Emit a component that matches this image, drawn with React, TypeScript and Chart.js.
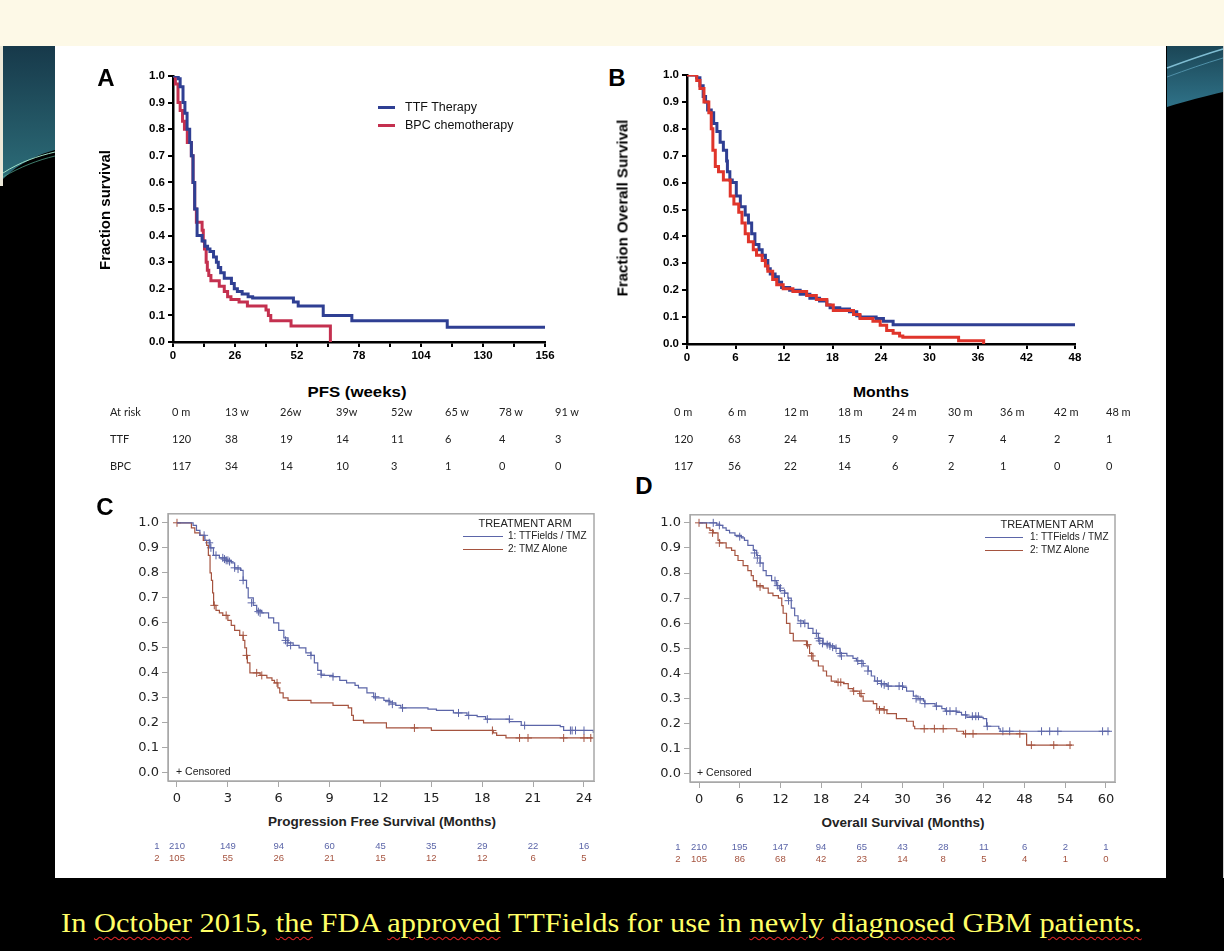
import React, { useEffect, useRef } from 'react';
import { Chart, registerables } from 'chart.js';
Chart.register(...registerables);

type Pair = [number, number];

// ---------------- Panel A: PFS (weeks) ----------------
const A_X_TICKS = [0, 13, 26, 39, 52, 65, 78, 91, 104, 117, 130, 143, 156];
const A_Y_TICKS = [0, 0.1, 0.2, 0.3, 0.4, 0.5, 0.6, 0.7, 0.8, 0.9, 1.0];
const A_TTF: Pair[] = [[0, 1], [2.2, 0.99], [3, 0.96], [4.2, 0.9], [5, 0.86], [5.9, 0.8], [7, 0.75], [7.7, 0.7], [8.4, 0.6], [9.1, 0.5], [10.1, 0.4], [12.2, 0.38], [13.4, 0.36], [14.5, 0.35], [15.5, 0.34], [17, 0.32], [18.2, 0.3], [19, 0.28], [20, 0.26], [21.5, 0.24], [24.5, 0.22], [25.7, 0.2], [27, 0.19], [29, 0.18], [31.5, 0.17], [33.4, 0.165], [50.5, 0.15], [52.5, 0.135], [63, 0.1], [75, 0.08], [115, 0.055], [156, 0.055]];
const A_BPC: Pair[] = [[0, 1], [1, 0.97], [2.1, 0.9], [3, 0.87], [4, 0.83], [4.8, 0.8], [6, 0.75], [7.7, 0.7], [8.4, 0.6], [9.1, 0.5], [9.8, 0.45], [12.2, 0.42], [12.7, 0.38], [13.2, 0.35], [13.9, 0.3], [14.4, 0.27], [15, 0.25], [15.9, 0.23], [19.4, 0.21], [21.5, 0.19], [22.9, 0.17], [24.3, 0.16], [27.7, 0.15], [31.2, 0.135], [39, 0.12], [40, 0.1], [41, 0.08], [49.5, 0.06], [66, 0]];
const A_RISK_HEAD = ['0 m', '13 w', '26w', '39w', '52w', '65 w', '78 w', '91 w'];
const A_RISK_TTF = [120, 38, 19, 14, 11, 6, 4, 3];
const A_RISK_BPC = [117, 34, 14, 10, 3, 1, 0, 0];

// ---------------- Panel B: OS (months) ----------------
const B_X_TICKS = [0, 6, 12, 18, 24, 30, 36, 42, 48];
const B_Y_TICKS = [0, 0.1, 0.2, 0.3, 0.4, 0.5, 0.6, 0.7, 0.8, 0.9, 1.0];
const B_TTF: Pair[] = [[0, 1], [0.8, 1], [1.2, 0.99], [1.6, 0.96], [2.0, 0.92], [2.3, 0.9], [2.55, 0.87], [3.0, 0.86], [3.3, 0.82], [3.7, 0.79], [4.1, 0.75], [4.5, 0.72], [4.9, 0.68], [5.0, 0.64], [5.3, 0.61], [5.6, 0.6], [6.1, 0.55], [6.6, 0.51], [7.2, 0.48], [7.6, 0.45], [8.0, 0.41], [8.4, 0.37], [8.9, 0.35], [9.3, 0.33], [9.7, 0.31], [10.0, 0.28], [10.3, 0.26], [10.9, 0.25], [11.3, 0.23], [11.7, 0.21], [12.7, 0.2], [14.0, 0.185], [15.2, 0.17], [16.4, 0.16], [17.3, 0.145], [17.7, 0.135], [18.9, 0.13], [20.1, 0.12], [21.0, 0.105], [21.4, 0.1], [23.4, 0.095], [24.3, 0.085], [25.5, 0.072], [48, 0.072]];
const B_BPC: Pair[] = [[0, 1], [0.8, 1], [1.2, 0.98], [1.6, 0.95], [2.1, 0.9], [2.7, 0.86], [3.0, 0.8], [3.2, 0.72], [3.5, 0.66], [3.9, 0.64], [4.5, 0.61], [5.35, 0.55], [5.8, 0.52], [6.4, 0.49], [6.8, 0.45], [7.2, 0.41], [7.6, 0.38], [8.2, 0.35], [8.6, 0.33], [9.3, 0.31], [9.7, 0.29], [10.0, 0.27], [10.6, 0.24], [11.1, 0.22], [11.9, 0.205], [13.1, 0.195], [14.8, 0.18], [16.0, 0.165], [17.3, 0.145], [18.1, 0.125], [20.6, 0.11], [21.4, 0.095], [23.0, 0.085], [23.9, 0.07], [24.7, 0.05], [25.5, 0.04], [26.3, 0.03], [26.7, 0.025], [33.6, 0.012], [36.7, 0]];
const B_RISK_HEAD = ['0 m', '6 m', '12 m', '18 m', '24 m', '30 m', '36 m', '42 m', '48 m'];
const B_RISK_TTF = [120, 63, 24, 15, 9, 7, 4, 2, 1];
const B_RISK_BPC = [117, 56, 22, 14, 6, 2, 1, 0, 0];

// ---------------- Panel C: PFS (months) ----------------
const C_X_TICKS = [0, 3, 6, 9, 12, 15, 18, 21, 24];
const C_Y_TICKS = [0, 0.1, 0.2, 0.3, 0.4, 0.5, 0.6, 0.7, 0.8, 0.9, 1.0];
const C_TTF: Pair[] = [[0, 1], [0.85, 1], [0.95, 0.99], [1.15, 0.97], [1.35, 0.95], [1.65, 0.93], [1.95, 0.9], [2.15, 0.87], [2.5, 0.86], [2.9, 0.85], [3.2, 0.84], [3.4, 0.82], [3.75, 0.81], [3.9, 0.77], [4.1, 0.74], [4.2, 0.7], [4.5, 0.67], [4.7, 0.65], [5.0, 0.64], [5.4, 0.62], [5.7, 0.6], [6.0, 0.57], [6.3, 0.54], [6.55, 0.52], [6.85, 0.51], [7.2, 0.5], [7.6, 0.48], [7.9, 0.47], [8.1, 0.44], [8.3, 0.41], [8.5, 0.39], [9.2, 0.385], [9.6, 0.37], [10.0, 0.36], [10.5, 0.35], [10.7, 0.34], [11.2, 0.32], [11.6, 0.3], [12.2, 0.29], [12.55, 0.28], [12.9, 0.27], [13.2, 0.26], [14.8, 0.255], [15.3, 0.25], [16.3, 0.24], [17.1, 0.23], [17.7, 0.225], [18.2, 0.215], [19.6, 0.205], [20.3, 0.19], [22.6, 0.185], [22.8, 0.17], [24.4, 0.17], [24.55, 0.16]];
const C_TMZ: Pair[] = [[0, 1], [0.75, 1], [0.85, 0.98], [1.05, 0.96], [1.35, 0.95], [1.55, 0.93], [1.75, 0.91], [1.85, 0.87], [1.95, 0.8], [2.03, 0.77], [2.1, 0.72], [2.16, 0.67], [2.3, 0.65], [2.5, 0.64], [2.7, 0.63], [3.0, 0.61], [3.2, 0.59], [3.4, 0.57], [3.7, 0.55], [3.9, 0.53], [4.0, 0.5], [4.1, 0.47], [4.15, 0.44], [4.3, 0.4], [4.9, 0.39], [5.3, 0.38], [5.6, 0.37], [5.75, 0.36], [5.95, 0.34], [6.06, 0.32], [6.26, 0.3], [6.55, 0.29], [7.9, 0.28], [9.2, 0.27], [10.1, 0.26], [10.3, 0.23], [10.4, 0.21], [11.0, 0.2], [12.35, 0.18], [15.0, 0.17], [18.65, 0.16], [18.85, 0.15], [19.4, 0.14], [24.5, 0.14]];
const C_TTF_CENS: Pair[] = [[1.6, 0.95], [1.9, 0.92], [2.0, 0.9], [2.3, 0.87], [2.7, 0.86], [2.8, 0.855], [2.9, 0.85], [3.0, 0.85], [3.1, 0.845], [3.4, 0.82], [3.6, 0.815], [3.9, 0.77], [4.4, 0.68], [4.8, 0.645], [4.9, 0.64], [6.4, 0.53], [6.5, 0.52], [6.7, 0.51], [7.9, 0.47], [8.5, 0.395], [9.2, 0.385], [11.7, 0.305], [12.5, 0.285], [12.7, 0.275], [13.3, 0.26], [16.6, 0.24], [17.2, 0.23], [18.3, 0.215], [19.6, 0.215], [20.5, 0.19], [23.2, 0.17], [23.3, 0.17], [23.5, 0.17], [24.0, 0.17]];
const C_TMZ_CENS: Pair[] = [[0, 1.0], [2.2, 0.67], [2.9, 0.63], [3.9, 0.55], [4.1, 0.47], [4.7, 0.4], [5.0, 0.39], [5.9, 0.36], [14.0, 0.18], [18.6, 0.17], [20.2, 0.14], [20.7, 0.14], [22.8, 0.14], [24.0, 0.14], [24.4, 0.14]];
const C_RISK_1 = [210, 149, 94, 60, 45, 35, 29, 22, 16];
const C_RISK_2 = [105, 55, 26, 21, 15, 12, 12, 6, 5];

// ---------------- Panel D: OS (months) ----------------
const D_X_TICKS = [0, 6, 12, 18, 24, 30, 36, 42, 48, 54, 60];
const D_Y_TICKS = [0, 0.1, 0.2, 0.3, 0.4, 0.5, 0.6, 0.7, 0.8, 0.9, 1.0];
const D_TTF: Pair[] = [[0, 1], [1.6, 1], [2.6, 0.995], [3.05, 0.99], [3.5, 0.98], [4.0, 0.97], [4.5, 0.96], [5.3, 0.95], [6.25, 0.94], [6.7, 0.93], [7.2, 0.91], [8.0, 0.89], [8.5, 0.87], [9.0, 0.84], [9.45, 0.81], [9.9, 0.79], [10.7, 0.77], [11.4, 0.75], [11.9, 0.73], [12.65, 0.72], [13.1, 0.7], [13.6, 0.66], [14.1, 0.63], [14.6, 0.61], [15.4, 0.6], [16.1, 0.58], [16.8, 0.56], [17.6, 0.54], [18.3, 0.52], [19.3, 0.51], [20.0, 0.5], [20.8, 0.48], [21.8, 0.47], [22.7, 0.46], [23.2, 0.45], [24.2, 0.43], [24.95, 0.41], [25.4, 0.39], [25.9, 0.37], [26.9, 0.36], [27.7, 0.35], [30.1, 0.345], [30.6, 0.33], [31.6, 0.31], [32.3, 0.3], [33.1, 0.29], [33.3, 0.28], [34.8, 0.27], [35.8, 0.26], [36.3, 0.25], [38.0, 0.245], [38.7, 0.235], [39.5, 0.225], [41.9, 0.22], [42.4, 0.19], [44.2, 0.18], [44.4, 0.17], [60.6, 0.17]];
const D_TMZ: Pair[] = [[0, 1], [0.6, 1], [1.1, 0.98], [1.6, 0.97], [2.1, 0.96], [2.8, 0.93], [3.05, 0.92], [4.0, 0.9], [4.8, 0.89], [5.3, 0.87], [5.75, 0.85], [6.5, 0.83], [7.2, 0.81], [7.7, 0.79], [8.0, 0.77], [8.5, 0.75], [9.45, 0.74], [10.2, 0.72], [10.9, 0.71], [11.7, 0.7], [12.2, 0.67], [12.4, 0.64], [12.9, 0.6], [13.4, 0.56], [13.9, 0.53], [15.4, 0.53], [15.85, 0.51], [16.3, 0.48], [16.8, 0.45], [17.6, 0.43], [18.3, 0.41], [18.8, 0.39], [19.5, 0.37], [20.3, 0.365], [21.3, 0.36], [22.0, 0.34], [22.7, 0.33], [23.7, 0.31], [24.2, 0.29], [25.7, 0.28], [26.2, 0.26], [27.2, 0.255], [27.7, 0.24], [29.1, 0.22], [30.6, 0.21], [31.6, 0.19], [31.8, 0.18], [38.0, 0.17], [39.0, 0.16], [48.1, 0.16], [48.3, 0.115], [55, 0.115]];
const D_TTF_CENS: Pair[] = [[2.1, 1.0], [3.0, 0.99], [6.0, 0.945], [8.2, 0.88], [8.6, 0.86], [9.0, 0.84], [11.2, 0.77], [11.6, 0.75], [12.0, 0.74], [12.6, 0.72], [13.2, 0.69], [15.0, 0.6], [15.6, 0.6], [17.3, 0.56], [17.6, 0.54], [17.8, 0.53], [18.2, 0.52], [18.9, 0.515], [19.3, 0.51], [19.7, 0.505], [20.2, 0.5], [20.8, 0.48], [21.0, 0.47], [23.4, 0.45], [24.0, 0.44], [24.9, 0.41], [26.3, 0.37], [26.9, 0.36], [27.3, 0.355], [27.9, 0.35], [29.5, 0.35], [30.0, 0.35], [32.0, 0.3], [32.6, 0.295], [33.3, 0.28], [35.0, 0.27], [36.5, 0.25], [37.0, 0.25], [37.9, 0.25], [39.3, 0.235], [40.3, 0.23], [40.8, 0.23], [41.2, 0.23], [42.5, 0.19], [44.8, 0.17], [45.8, 0.17], [50.5, 0.17], [51.7, 0.17], [52.9, 0.17], [59.5, 0.17], [60.3, 0.17]];
const D_TMZ_CENS: Pair[] = [[0, 1.0], [2.0, 0.96], [3.0, 0.92], [9.0, 0.745], [16.0, 0.515], [16.6, 0.47], [20.5, 0.365], [20.9, 0.365], [22.8, 0.33], [23.9, 0.32], [26.6, 0.255], [27.3, 0.255], [33.2, 0.18], [34.7, 0.18], [36.0, 0.18], [39.3, 0.16], [40.4, 0.16], [47.3, 0.16], [49.0, 0.115], [52.3, 0.115], [54.7, 0.115]];
const D_RISK_1 = [210, 195, 147, 94, 65, 43, 28, 11, 6, 2, 1];
const D_RISK_2 = [105, 86, 68, 42, 23, 14, 8, 5, 4, 1, 0];

// ---------------- styles ----------------
const SANS = '"Liberation Sans", Arial, sans-serif';
const DEJAVU = '"DejaVu Sans", sans-serif';
const PRISM_BLUE = '#2f3f93';
const PRISM_RED_A = '#c4304f';
const PRISM_RED_B = '#e0352b';
const SAS_BLUE = '#5b65a8';
const SAS_RED = '#a5533f';

interface Panel {
  plot: { x: number; y: number; w: number; h: number };
  m: { l: number; t: number; r: number; b: number };
  xMin: number; xMax: number; xTicks: number[]; xLabel: (v: number) => string;
  yMin: number; yMax: number; yTicks: number[];
  style: 'prism' | 'sas';
  curves: { pts: Pair[]; color: string; width: number }[];
  censors: { pts: Pair[]; color: string }[];
}

const framePlugin = {
  id: 'sasFrame',
  afterDraw(chart: any) {
    const { ctx, chartArea: a } = chart;
    ctx.save();
    ctx.strokeStyle = '#a8a8a8';
    ctx.lineWidth = 1.5;
    ctx.strokeRect(a.left, a.top, a.right - a.left, a.bottom - a.top);
    ctx.restore();
  },
};

const toXY = (p: Pair[]) => p.map(([x, y]) => ({ x, y }));

function buildConfig(p: Panel): any {
  const prism = p.style === 'prism';
  const axisColor = prism ? '#000' : '#a8a8a8';
  const tickFont = prism ? { family: SANS, size: 11.5, weight: 'bold' } : { family: DEJAVU, size: 13 };
  const tickColor = prism ? '#000' : '#222';
  const datasets: any[] = [];
  p.curves.forEach((c) =>
    datasets.push({ data: toXY(c.pts), borderColor: c.color, borderWidth: c.width, stepped: 'before', pointRadius: 0, fill: false, tension: 0 })
  );
  p.censors.forEach((c) =>
    datasets.push({ data: toXY(c.pts), showLine: false, pointStyle: 'cross', pointRadius: 4, pointBorderWidth: 1, pointBorderColor: c.color, borderColor: c.color, backgroundColor: c.color })
  );
  const grid = { display: true, drawOnChartArea: false, drawTicks: true, tickLength: prism ? 5 : 6, color: axisColor, lineWidth: prism ? 2 : 1 };
  const border = { display: true, color: axisColor, width: prism ? 2.5 : 1 };
  return {
    type: 'line',
    data: { datasets },
    options: {
      animation: false,
      responsive: false,
      maintainAspectRatio: false,
      events: [],
      layout: { padding: { top: p.m.t, right: p.m.r, left: 0, bottom: 0 } },
      plugins: { legend: { display: false }, tooltip: { enabled: false } },
      scales: {
        x: {
          type: 'linear', min: p.xMin, max: p.xMax,
          afterBuildTicks: (s: any) => { s.ticks = p.xTicks.map((v) => ({ value: v })); },
          afterFit: (s: any) => { s.height = p.m.b; },
          grid, border,
          ticks: { autoSkip: false, maxRotation: 0, padding: prism ? 2 : 4, color: tickColor, font: tickFont, callback: (v: number) => p.xLabel(v) },
        },
        y: {
          type: 'linear', min: p.yMin, max: p.yMax,
          afterBuildTicks: (s: any) => { s.ticks = p.yTicks.map((v) => ({ value: v })); },
          afterFit: (s: any) => { s.width = p.m.l; },
          grid, border,
          ticks: { autoSkip: false, padding: 3, color: tickColor, font: tickFont, callback: (v: number) => v.toFixed(1) },
        },
      },
    },
    plugins: prism ? [] : [framePlugin],
  };
}

function KMChart({ p }: { p: Panel }) {
  const ref = useRef<HTMLCanvasElement>(null);
  useEffect(() => {
    const chart = new Chart(ref.current as HTMLCanvasElement, buildConfig(p));
    return () => chart.destroy();
  }, []);
  const w = p.plot.w + p.m.l + p.m.r;
  const h = p.plot.h + p.m.t + p.m.b;
  return (
    <canvas
      ref={ref}
      width={w}
      height={h}
      style={{ position: 'absolute', left: p.plot.x - p.m.l, top: p.plot.y - p.m.t, width: w, height: h }}
    />
  );
}

const PANEL_A: Panel = {
  plot: { x: 173, y: 76, w: 372, h: 266 }, m: { l: 60, t: 12, r: 22, b: 30 },
  xMin: 0, xMax: 156, xTicks: A_X_TICKS, xLabel: (v) => (v % 26 === 0 ? String(v) : ''),
  yMin: 0, yMax: 1, yTicks: A_Y_TICKS, style: 'prism',
  curves: [{ pts: A_TTF, color: PRISM_BLUE, width: 3 }, { pts: A_BPC, color: PRISM_RED_A, width: 3 }],
  censors: [],
};
const PANEL_B: Panel = {
  plot: { x: 687, y: 75, w: 388, h: 269 }, m: { l: 60, t: 12, r: 22, b: 30 },
  xMin: 0, xMax: 48, xTicks: B_X_TICKS, xLabel: (v) => String(v),
  yMin: 0, yMax: 1, yTicks: B_Y_TICKS, style: 'prism',
  curves: [{ pts: B_BPC, color: PRISM_RED_B, width: 3 }, { pts: B_TTF, color: PRISM_BLUE, width: 3 }],
  censors: [],
};
const PANEL_C: Panel = {
  plot: { x: 168, y: 513, w: 426, h: 268 }, m: { l: 45, t: 10, r: 16, b: 30 },
  xMin: -0.53, xMax: 24.59, xTicks: C_X_TICKS, xLabel: (v) => String(v),
  yMin: -0.032, yMax: 1.036, yTicks: C_Y_TICKS, style: 'sas',
  curves: [{ pts: C_TTF, color: SAS_BLUE, width: 1.2 }, { pts: C_TMZ, color: SAS_RED, width: 1.2 }],
  censors: [{ pts: C_TTF_CENS, color: SAS_BLUE }, { pts: C_TMZ_CENS, color: SAS_RED }],
};
const PANEL_D: Panel = {
  plot: { x: 690, y: 514, w: 425, h: 268 }, m: { l: 45, t: 10, r: 16, b: 30 },
  xMin: -1.33, xMax: 61.33, xTicks: D_X_TICKS, xLabel: (v) => String(v),
  yMin: -0.032, yMax: 1.032, yTicks: D_Y_TICKS, style: 'sas',
  curves: [{ pts: D_TTF, color: SAS_BLUE, width: 1.2 }, { pts: D_TMZ, color: SAS_RED, width: 1.2 }],
  censors: [{ pts: D_TTF_CENS, color: SAS_BLUE }, { pts: D_TMZ_CENS, color: SAS_RED }],
};

// column positions for the at-risk tables (layout)
const A_COLS = [172, 225, 280, 336, 391, 445, 499, 555];
const B_COLS = [674, 728, 784, 838, 892, 948, 1000, 1054, 1106];
const cX = (t: number) => 177 + (t * (584 - 177)) / 24;
const dX = (t: number) => 699 + (t * (1106 - 699)) / 60;

type TxtProps = { x: number; y: number; align?: 'left' | 'center' | 'right'; rotate?: boolean; sx?: number; style?: React.CSSProperties; children: React.ReactNode };
function Txt({ x, y, align = 'left', rotate, sx, style, children }: TxtProps) {
  let tr = align === 'center' ? 'translate(-50%,-50%)' : align === 'right' ? 'translate(-100%,-50%)' : 'translateY(-50%)';
  if (rotate) tr = 'translate(-50%,-50%) rotate(-90deg)';
  if (sx) tr += ` scaleX(${sx})`;
  return (
    <div style={{ position: 'absolute', left: x, top: y, transform: tr, whiteSpace: 'nowrap', lineHeight: 1, ...style }}>
      {children}
    </div>
  );
}

function Line({ x1, x2, y, color, w }: { x1: number; x2: number; y: number; color: string; w: number }) {
  return <div style={{ position: 'absolute', left: x1, top: y - w / 2, width: x2 - x1, height: w, background: color }} />;
}

const riskFont: React.CSSProperties = { fontFamily: 'Lato, "Open Sans", sans-serif', fontSize: 11, color: '#222' };
const sasLegend: React.CSSProperties = { fontFamily: SANS, fontSize: 10, color: '#222' };
const wavy: React.CSSProperties = { textDecoration: 'underline wavy #e02828', textUnderlineOffset: 4, textDecorationThickness: 1 };

export default function App() {
  useEffect(() => {
    document.body.style.margin = '0';
  }, []);
  return (
    <div style={{ position: 'absolute', left: 0, top: 0, width: 1224, height: 951, background: '#000', overflow: 'hidden', fontFamily: SANS }}>
      <div style={{ position: 'absolute', left: 0, top: 0, width: 1224, height: 46, background: '#FDF9E7' }} />
      {/* left decoration */}
      <svg width={55} height={832} style={{ position: 'absolute', left: 0, top: 46 }}>
        <defs>
          <linearGradient id="gl" x1="0" y1="0" x2="0" y2="1">
            <stop offset="0" stopColor="#17394a" />
            <stop offset="1" stopColor="#2c6c78" />
          </linearGradient>
        </defs>
        <rect x={0} y={0} width={3} height={140} fill="#ece8d8" />
        <path d="M3,0 L55,0 L55,104 C40,108 20,116 3,133 Z" fill="url(#gl)" />
        <path d="M3,127 C20,116 38,110 55,106" stroke="#9fe0c8" strokeWidth={1} fill="none" />
        <path d="M3,131 C20,121 38,114 55,110" stroke="#4f9c88" strokeWidth={0.8} fill="none" />
      </svg>
      {/* right decoration */}
      <svg width={58} height={832} style={{ position: 'absolute', left: 1166, top: 46 }}>
        <defs>
          <linearGradient id="gr" x1="0" y1="0" x2="0" y2="1">
            <stop offset="0" stopColor="#1b4656" />
            <stop offset="1" stopColor="#2f7288" />
          </linearGradient>
        </defs>
        <path d="M1,0 L57,0 L57,46 C40,50 20,55 1,61 Z" fill="url(#gr)" />
        <path d="M1,22 C20,15 40,8 57,3" stroke="#7fbdd2" strokeWidth={1.4} fill="none" />
        <path d="M1,31 C20,24 40,17 57,12" stroke="#4f90a8" strokeWidth={1} fill="none" />
        <rect x={57} y={0} width={1} height={832} fill="#cfcfcf" />
      </svg>
      {/* white slide panel */}
      <div style={{ position: 'absolute', left: 55, top: 46, width: 1111, height: 832, background: '#fff' }} />

      <KMChart p={PANEL_A} />
      <KMChart p={PANEL_B} />
      <KMChart p={PANEL_C} />
      <KMChart p={PANEL_D} />

      {/* panel letters */}
      <Txt x={106} y={78} align="center" style={{ fontWeight: 'bold', fontSize: 24 }}>A</Txt>
      <Txt x={617} y={78} align="center" style={{ fontWeight: 'bold', fontSize: 24 }}>B</Txt>
      <Txt x={105} y={507} align="center" style={{ fontWeight: 'bold', fontSize: 24 }}>C</Txt>
      <Txt x={644} y={486} align="center" style={{ fontWeight: 'bold', fontSize: 24 }}>D</Txt>

      {/* panel A/B titles */}
      <Txt x={104} y={210} rotate style={{ fontWeight: 'bold', fontSize: 15 }}>Fraction survival</Txt>
      <Txt x={622} y={208} rotate style={{ fontWeight: 'bold', fontSize: 15 }}>Fraction Overall Survival</Txt>
      <Txt x={357} y={391} align="center" sx={1.12} style={{ fontWeight: 'bold', fontSize: 15 }}>PFS (weeks)</Txt>
      <Txt x={881} y={391} align="center" sx={1.05} style={{ fontWeight: 'bold', fontSize: 15 }}>Months</Txt>

      {/* legend A */}
      <Line x1={378} x2={395} y={107} color={PRISM_BLUE} w={3} />
      <Txt x={405} y={107} style={{ fontSize: 12.5, color: '#111' }}>TTF Therapy</Txt>
      <Line x1={378} x2={395} y={125} color={PRISM_RED_A} w={3} />
      <Txt x={405} y={125} style={{ fontSize: 12.5, color: '#111' }}>BPC chemotherapy</Txt>

      {/* at-risk tables A/B */}
      <Txt x={110} y={411} style={riskFont}>At risk</Txt>
      <Txt x={110} y={438} style={riskFont}>TTF</Txt>
      <Txt x={110} y={465} style={riskFont}>BPC</Txt>
      {A_RISK_HEAD.map((s, i) => <Txt key={'ah' + i} x={A_COLS[i]} y={411} style={riskFont}>{s}</Txt>)}
      {A_RISK_TTF.map((s, i) => <Txt key={'at' + i} x={A_COLS[i]} y={438} style={riskFont}>{s}</Txt>)}
      {A_RISK_BPC.map((s, i) => <Txt key={'ab' + i} x={A_COLS[i]} y={465} style={riskFont}>{s}</Txt>)}
      {B_RISK_HEAD.map((s, i) => <Txt key={'bh' + i} x={B_COLS[i]} y={411} style={riskFont}>{s}</Txt>)}
      {B_RISK_TTF.map((s, i) => <Txt key={'bt' + i} x={B_COLS[i]} y={438} style={riskFont}>{s}</Txt>)}
      {B_RISK_BPC.map((s, i) => <Txt key={'bb' + i} x={B_COLS[i]} y={465} style={riskFont}>{s}</Txt>)}

      {/* legend C */}
      <Txt x={525} y={523} align="center" style={{ ...sasLegend, fontSize: 11 }}>TREATMENT ARM</Txt>
      <Line x1={463} x2={503} y={536} color={SAS_BLUE} w={1} />
      <Txt x={508} y={536} style={sasLegend}>1: TTFields / TMZ</Txt>
      <Line x1={463} x2={503} y={549} color={SAS_RED} w={1} />
      <Txt x={508} y={549} style={sasLegend}>2: TMZ Alone</Txt>
      <Txt x={176} y={771} style={{ ...sasLegend, fontSize: 10.5 }}>+ Censored</Txt>
      <Txt x={382} y={822} align="center" style={{ fontWeight: 'bold', fontSize: 13.5, color: '#222' }}>Progression Free Survival (Months)</Txt>
      <Txt x={157} y={846} align="center" style={{ fontSize: 9.5, color: SAS_BLUE }}>1</Txt>
      <Txt x={157} y={858} align="center" style={{ fontSize: 9.5, color: SAS_RED }}>2</Txt>
      {C_RISK_1.map((n, i) => <Txt key={'c1' + i} x={cX(C_X_TICKS[i])} y={846} align="center" style={{ fontSize: 9.5, color: SAS_BLUE }}>{n}</Txt>)}
      {C_RISK_2.map((n, i) => <Txt key={'c2' + i} x={cX(C_X_TICKS[i])} y={858} align="center" style={{ fontSize: 9.5, color: SAS_RED }}>{n}</Txt>)}

      {/* legend D */}
      <Txt x={1047} y={524} align="center" style={{ ...sasLegend, fontSize: 11 }}>TREATMENT ARM</Txt>
      <Line x1={985} x2={1023} y={537} color={SAS_BLUE} w={1} />
      <Txt x={1030} y={537} style={sasLegend}>1: TTFields / TMZ</Txt>
      <Line x1={985} x2={1023} y={550} color={SAS_RED} w={1} />
      <Txt x={1030} y={550} style={sasLegend}>2: TMZ Alone</Txt>
      <Txt x={697} y={772} style={{ ...sasLegend, fontSize: 10.5 }}>+ Censored</Txt>
      <Txt x={903} y={823} align="center" style={{ fontWeight: 'bold', fontSize: 13.5, color: '#222' }}>Overall Survival (Months)</Txt>
      <Txt x={678} y={847} align="center" style={{ fontSize: 9.5, color: SAS_BLUE }}>1</Txt>
      <Txt x={678} y={859} align="center" style={{ fontSize: 9.5, color: SAS_RED }}>2</Txt>
      {D_RISK_1.map((n, i) => <Txt key={'d1' + i} x={dX(D_X_TICKS[i])} y={847} align="center" style={{ fontSize: 9.5, color: SAS_BLUE }}>{n}</Txt>)}
      {D_RISK_2.map((n, i) => <Txt key={'d2' + i} x={dX(D_X_TICKS[i])} y={859} align="center" style={{ fontSize: 9.5, color: SAS_RED }}>{n}</Txt>)}

      {/* caption */}
      <div style={{ position: 'absolute', left: 61, top: 909, fontFamily: '"Liberation Serif", "Times New Roman", serif', fontSize: 28, lineHeight: '28px', color: '#FFFF66', whiteSpace: 'nowrap', transform: 'scaleX(1.087)', transformOrigin: 'left top' }}>
        In <span style={wavy}>October</span> 2015, <span style={wavy}>the</span> FDA <span style={wavy}>approved</span> TTFields for use in <span style={wavy}>newly</span> <span style={wavy}>diagnosed</span> GBM <span style={wavy}>patients.</span>
      </div>
    </div>
  );
}
